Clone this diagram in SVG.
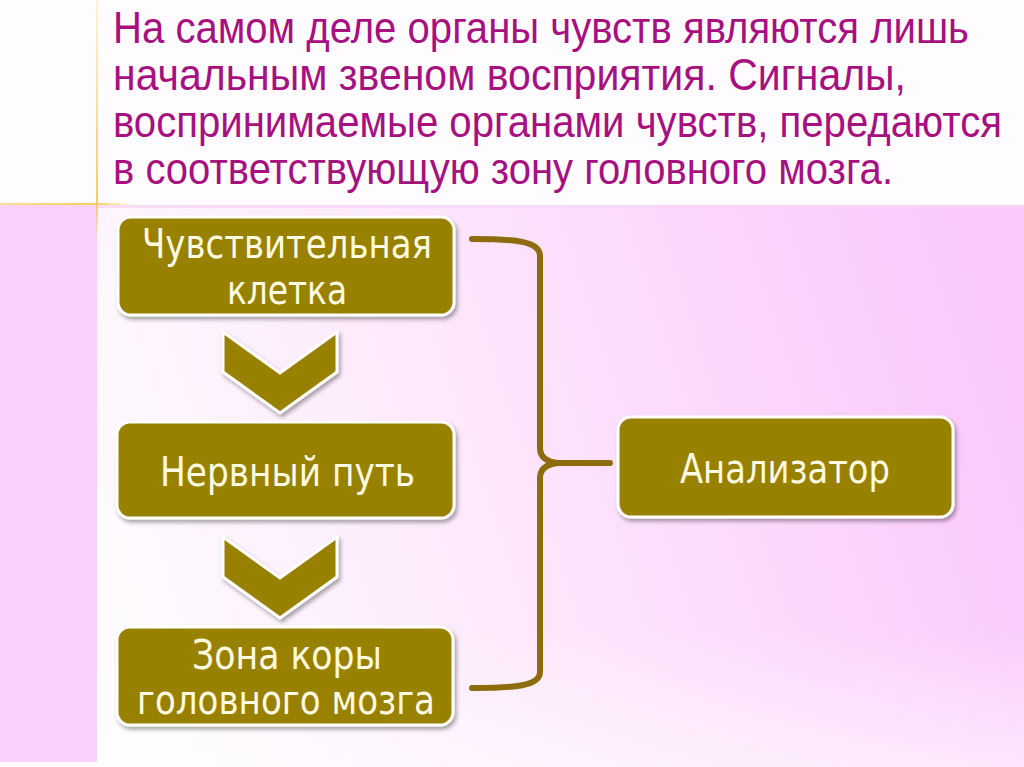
<svg xmlns="http://www.w3.org/2000/svg" width="1024" height="767" viewBox="0 0 1024 767">
<defs>
<linearGradient id="bg" x1="0" y1="0.6" x2="1" y2="0.4">
<stop offset="0" stop-color="#fefbfe"/>
<stop offset="0.45" stop-color="#fde6fc"/>
<stop offset="1" stop-color="#fac8fb"/>
</linearGradient>
<linearGradient id="fade" x1="0" y1="0" x2="0" y2="1">
<stop offset="0" stop-color="#ffffff" stop-opacity="0"/>
<stop offset="0.75" stop-color="#ffffff" stop-opacity="0"/>
<stop offset="1" stop-color="#ffffff" stop-opacity="0.5"/>
</linearGradient>
<linearGradient id="vline" x1="0" y1="0" x2="0" y2="1">
<stop offset="0" stop-color="#f3cf5a" stop-opacity="0.2"/>
<stop offset="0.85" stop-color="#f3cf5a" stop-opacity="1"/>
<stop offset="1" stop-color="#f3cf5a" stop-opacity="0"/>
</linearGradient>
<linearGradient id="hline" x1="0" y1="0" x2="1" y2="0">
<stop offset="0" stop-color="#f3cf5a" stop-opacity="0.6"/>
<stop offset="0.7" stop-color="#f3cf5a" stop-opacity="1"/>
<stop offset="1" stop-color="#f3cf5a" stop-opacity="0"/>
</linearGradient>
<filter id="sh" x="-10%" y="-10%" width="125%" height="130%">
<feGaussianBlur in="SourceAlpha" stdDeviation="2"/>
<feOffset dx="2" dy="3" result="b"/>
<feComponentTransfer><feFuncA type="linear" slope="0.35"/></feComponentTransfer>
<feMerge><feMergeNode/><feMergeNode in="SourceGraphic"/></feMerge>
</filter>
</defs>
<style>
.box{fill:#998106;stroke:#ffffff;stroke-width:3;filter:url(#sh)}
.chev{fill:#998106;stroke:#ffffff;stroke-width:3;stroke-linejoin:miter;filter:url(#sh)}
.lbl{font-family:"DejaVu Sans","Open Sans",sans-serif;font-size:40px;fill:#fffbe2;text-anchor:start}
.ttl{font-family:"Liberation Sans",Arial,sans-serif;font-size:40px;fill:#a6117f}
.br{fill:none;stroke:#8c6c0c;stroke-width:6;stroke-linecap:round;stroke-linejoin:round}
</style>
<rect x="0" y="0" width="1024" height="767" fill="#fefcfe"/>
<rect x="97" y="205" width="927" height="562" fill="url(#bg)"/>
<rect x="97" y="205" width="927" height="562" fill="url(#fade)"/>
<rect x="0" y="205" width="97" height="557" fill="#fad0fa"/>
<rect x="97" y="205" width="927" height="3" fill="#f8d6f6" opacity="0.8"/>
<rect x="96" y="0" width="2" height="240" fill="url(#vline)"/>
<rect x="0" y="203" width="135" height="2" fill="url(#hline)"/>
<g id="title">
<text class="ttl" transform="translate(113,43) scale(1,1.1)" x="0" y="0" textLength="856" lengthAdjust="spacingAndGlyphs">На самом деле органы чувств являются лишь</text>
<text class="ttl" transform="translate(113,90) scale(1,1.1)" x="0" y="0" textLength="793" lengthAdjust="spacingAndGlyphs">начальным звеном восприятия. Сигналы,</text>
<text class="ttl" transform="translate(113,137) scale(1,1.1)" x="0" y="0" textLength="889" lengthAdjust="spacingAndGlyphs">воспринимаемые органами чувств, передаются</text>
<text class="ttl" transform="translate(113,184) scale(1,1.1)" x="0" y="0" textLength="780" lengthAdjust="spacingAndGlyphs">в соответствующую зону головного мозга.</text>
</g>
<g id="connectors">
<polygon class="chev" points="223,332 280,373 337,332 337,372 280,413 223,372"/>
<polygon class="chev" points="223,537 280,578 337,537 337,577 280,618 223,577"/>
<path class="br" d="M472,239 C515,239 540,241 540,256 L540,448 Q540,461 558,463 L610,463 M558,463 Q540,465 540,478 L540,672 C540,686 515,688 472,688"/>
</g>
<g id="node-cell">
<rect class="box" x="118" y="217" width="336" height="98" rx="13"/>
<text class="lbl" x="142" y="258" textLength="290" lengthAdjust="spacingAndGlyphs">Чувствительная</text>
<text class="lbl" x="227" y="304" textLength="120" lengthAdjust="spacingAndGlyphs">клетка</text>
</g>
<g id="node-path">
<rect class="box" x="117" y="422" width="337" height="96" rx="13"/>
<text class="lbl" x="160" y="486" textLength="255" lengthAdjust="spacingAndGlyphs">Нервный путь</text>
</g>
<g id="node-cortex">
<rect class="box" x="117" y="627" width="336" height="98" rx="13"/>
<text class="lbl" x="192" y="669" textLength="190" lengthAdjust="spacingAndGlyphs">Зона коры</text>
<text class="lbl" x="137" y="714" textLength="298" lengthAdjust="spacingAndGlyphs">головного мозга</text>
</g>
<g id="node-analyzer">
<rect class="box" x="618" y="417" width="335" height="100" rx="13"/>
<text class="lbl" x="680" y="483" textLength="210" lengthAdjust="spacingAndGlyphs">Анализатор</text>
</g>
</svg>
